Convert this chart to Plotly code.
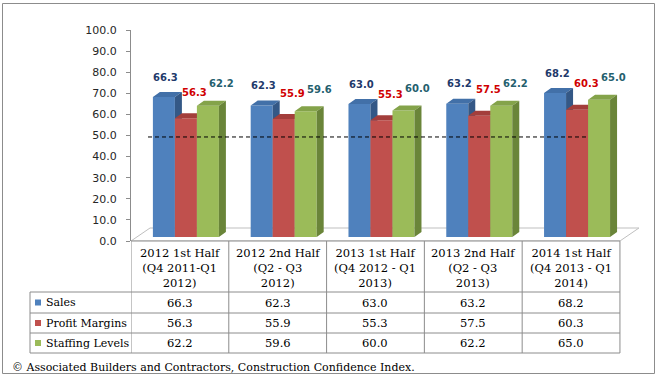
import plotly.graph_objects as go

# ---------------- data ----------------
categories = [
    "2012 1st Half<br>(Q4 2011-Q1<br>2012)",
    "2012 2nd Half<br>(Q2 - Q3<br>2012)",
    "2013 1st Half<br>(Q4 2012 - Q1<br>2013)",
    "2013 2nd Half<br>(Q2 - Q3<br>2013)",
    "2014 1st Half<br>(Q4 2013 - Q1<br>2014)",
]
series_names = ["Sales", "Profit Margins", "Staffing Levels"]
sales = [66.3, 62.3, 63.0, 63.2, 68.2]
profit_margins = [56.3, 55.9, 55.3, 57.5, 60.3]
staffing_levels = [62.2, 59.6, 60.0, 62.2, 65.0]
y_ticks = [0, 10, 20, 30, 40, 50, 60, 70, 80, 90, 100]
ref_level = 49.3  # dashed reference line
footer = "© Associated Builders and Contractors, Construction Confidence Index."

series_values = [sales, profit_margins, staffing_levels]

# ---------------- styles / geometry ----------------
W, H = 657, 376
L, R, T, B = 131, 640, 30, 241
XMIN, XMAX = -0.5, 4.705
YMIN, YMAX = 0, 100
PX_X = (R - L) / (XMAX - XMIN)
PX_Y = (B - T) / (YMAX - YMIN)

front_cols = ["#4F81BD", "#C0504D", "#9BBB59"]
top_cols = ["#4270A8", "#A33E3B", "#84A34A"]
side_cols = ["#345886", "#8A3533", "#6A8539"]
label_cols = ["#1F3A6B", "#D00000", "#25606E"]
label_dx = [2, 9, 14]     # px
label_dy = [20, 26, 22]   # px
grid_col = "#8C8C8C"
serif = "DejaVu Serif"
table_fs = 11.5

BW = 22 / PX_X            # bar width
GSHIFT = 6 / PX_X         # depth shift of bar fronts
BASE = 4 / PX_Y           # bar base above floor front
DX, DY = 7 / PX_X, 5 / PX_Y       # bar depth
FDX, FDY = 19 / PX_X, 13 / PX_Y   # floor depth


def xp(px):
    return (px - L) / (R - L)


def yp(py):
    return (B - py) / (B - T)


fig = go.Figure()

# bars as 3D faces (front, top, side) per series
for k, vals in enumerate(series_values):
    fx, fy, tx, ty, sx, sy = [], [], [], [], [], []
    for i, v in enumerate(vals):
        x0 = i + GSHIFT + (k - 1.5) * BW
        x1 = x0 + BW
        b, t = BASE, BASE + v
        fx += [x0, x1, x1, x0, x0, None]
        fy += [b, b, t, t, b, None]
        tx += [x0, x1, x1 + DX, x0 + DX, x0, None]
        ty += [t, t, t + DY, t + DY, t, None]
        sx += [x1, x1 + DX, x1 + DX, x1, x1, None]
        sy += [b, b + DY, t + DY, t, b, None]
    for xs, ys, c in [(fx, fy, front_cols[k]), (tx, ty, top_cols[k]), (sx, sy, side_cols[k])]:
        fig.add_trace(go.Scatter(
            x=xs, y=ys, mode="lines", fill="toself", fillcolor=c,
            line=dict(width=0, color=c), hoverinfo="skip", showlegend=False,
            name=series_names[k]))

shapes = []
annotations = []

# floor
shapes.append(dict(
    type="path", xref="x", yref="y", layer="below",
    path=f"M {XMIN},0 L 4.5,0 L {4.5 + FDX},{FDY} L {XMIN + FDX},{FDY} Z",
    line=dict(color="#BFBFBF", width=1), fillcolor="white"))

# dashed reference line
shapes.append(dict(
    type="line", xref="x", yref="y",
    x0=XMIN + 17 / PX_X, x1=XMIN + 457 / PX_X, y0=ref_level, y1=ref_level,
    line=dict(color="black", width=1, dash="4px,3px")))

# data labels
for k, vals in enumerate(series_values):
    for i, v in enumerate(vals):
        xc = i + GSHIFT + (k - 1) * BW
        annotations.append(dict(
            x=xc, y=BASE + v, xref="x", yref="y", text=f"{v:.1f}",
            showarrow=False, xshift=label_dx[k], yshift=label_dy[k],
            font=dict(family="DejaVu Sans", size=10, color=label_cols[k], weight="bold")))

# ---------------- data table ----------------
row_edges = [241, 292, 313, 333, 353]
n = len(categories)
for j in range(n + 1):
    shapes.append(dict(type="line", xref="x", yref="paper",
                       x0=j - 0.5, x1=j - 0.5, y0=yp(row_edges[0]), y1=yp(row_edges[-1]),
                       line=dict(color=grid_col, width=1)))
for r_i, ry in enumerate(row_edges):
    shapes.append(dict(type="line", xref="paper", yref="paper",
                       x0=0 if r_i == 0 else xp(30), x1=xp(L + n * PX_X),
                       y0=yp(ry), y1=yp(ry), line=dict(color=grid_col, width=1)))
shapes.append(dict(type="line", xref="paper", yref="paper",
                   x0=xp(30), x1=xp(30), y0=yp(row_edges[1]), y1=yp(row_edges[-1]),
                   line=dict(color=grid_col, width=1)))

for i, cat in enumerate(categories):
    annotations.append(dict(
        x=i, y=yp((row_edges[0] + row_edges[1]) / 2 + 1), xref="x", yref="paper",
        text=cat, showarrow=False, xanchor="center", yanchor="middle",
        font=dict(family=serif, size=table_fs, color="black")))

for k, vals in enumerate(series_values):
    yc = (row_edges[k + 1] + row_edges[k + 2]) / 2
    shapes.append(dict(type="rect", xref="paper", yref="paper",
                       x0=xp(35), x1=xp(41), y0=yp(yc - 3), y1=yp(yc + 3),
                       fillcolor=front_cols[k], line=dict(width=0)))
    annotations.append(dict(
        x=xp(44), y=yp(yc), xref="paper", yref="paper", text=series_names[k],
        showarrow=False, xanchor="left", yanchor="middle",
        font=dict(family=serif, size=table_fs - 0.5, color="black")))
    for i, v in enumerate(vals):
        annotations.append(dict(
            x=i, y=yp(yc), xref="x", yref="paper", text=f"{v:.1f}",
            showarrow=False, xanchor="center", yanchor="middle",
            font=dict(family=serif, size=table_fs, color="black")))

annotations.append(dict(
    x=xp(10), y=yp(367), xref="paper", yref="paper", text=footer,
    showarrow=False, xanchor="left", yanchor="middle",
    font=dict(family=serif, size=11, color="black")))

shapes.append(dict(type="rect", xref="paper", yref="paper",
                   x0=xp(2.5), x1=xp(654.5), y0=yp(373.5), y1=yp(3.5),
                   line=dict(color="#8C8C8C", width=1), fillcolor="rgba(0,0,0,0)"))

fig.update_layout(
    width=W, height=H,
    margin=dict(l=L, r=W - R, t=T, b=H - B, pad=0),
    paper_bgcolor="white", plot_bgcolor="rgba(0,0,0,0)",
    showlegend=False,
    shapes=shapes, annotations=annotations,
    xaxis=dict(range=[XMIN, XMAX], visible=False, fixedrange=True),
    yaxis=dict(range=[YMIN, YMAX], tickvals=y_ticks,
               ticktext=[f"{t:.1f}" for t in y_ticks],
               showgrid=False, zeroline=False, showline=True, linecolor=grid_col,
               linewidth=1, ticks="outside", ticklen=4, tickcolor=grid_col,
               ticklabelstandoff=7,
               tickfont=dict(family="DejaVu Sans", size=11, color="#262626"),
               fixedrange=True),
)

fig.write_html("out.html", config={"displayModeBar": False},
               post_script="document.body.style.margin='0';document.body.style.overflow='hidden';")
